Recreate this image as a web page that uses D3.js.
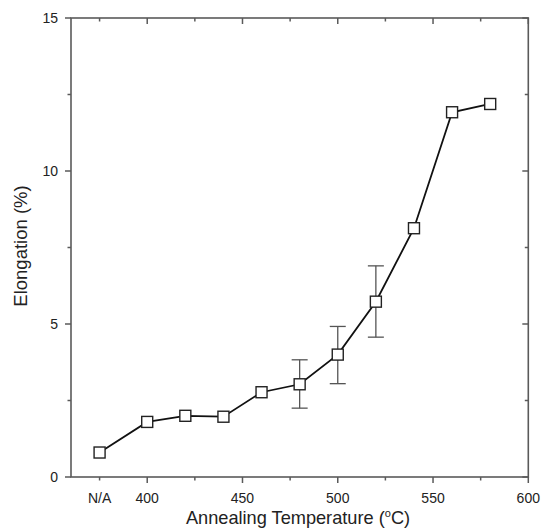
<!DOCTYPE html>
<html>
<head>
<meta charset="utf-8">
<script src="https://cdn.jsdelivr.net/npm/d3@7/dist/d3.min.js"></script>
<style>
  html, body { margin: 0; padding: 0; background: #fff; }
  svg { display: block; font-family: "Liberation Sans", Arial, sans-serif; }
</style>
</head>
<body>
<svg id="chart" width="541" height="529"></svg>
<script>
// Annealing temperature (°C); the untreated sample sits at the 375 slot, labelled N/A
const temperatures = [375, 400, 420, 440, 460, 480, 500, 520, 540, 560, 580];
const elongation   = [0.8, 1.8, 2.0, 1.97, 2.77, 3.03, 4.0, 5.73, 8.13, 11.92, 12.19];
const errLow       = [null, null, null, null, null, 2.25, 3.05, 4.57, null, null, null];
const errHigh      = [null, null, null, null, null, 3.83, 4.92, 6.9, null, null, null];

const xMajorTicks = [400, 450, 500, 550, 600];
const xMinorTicks = [425, 475, 525, 575];
const xSpecialTick = { value: 375, label: "N/A" };
const yMajorTicks = [0, 5, 10, 15];
const yMinorTicks = [2.5, 7.5, 12.5];

const svg = d3.select("#chart");
const plotL = 71, plotR = 528.3, plotT = 18, plotB = 477;

const x = d3.scaleLinear().domain([360, 600]).range([plotL, plotR]);
const y = d3.scaleLinear().domain([0, 15]).range([plotB, plotT]);

const axisColor = "#5a5a5a";
const g = svg.append("g");

// frame
g.append("rect")
  .attr("x", plotL).attr("y", plotT)
  .attr("width", plotR - plotL).attr("height", plotB - plotT)
  .attr("fill", "none").attr("stroke", axisColor).attr("stroke-width", 1.6);

function tickLines(vals, len, side) {
  vals.forEach(v => {
    if (side === "bottom") {
      g.append("line").attr("x1", x(v)).attr("x2", x(v)).attr("y1", plotB).attr("y2", plotB + len);
    } else if (side === "top") {
      g.append("line").attr("x1", x(v)).attr("x2", x(v)).attr("y1", plotT).attr("y2", plotT + len);
    } else if (side === "left") {
      g.append("line").attr("y1", y(v)).attr("y2", y(v)).attr("x1", plotL).attr("x2", plotL - len);
    } else {
      g.append("line").attr("y1", y(v)).attr("y2", y(v)).attr("x1", plotR).attr("x2", plotR - len);
    }
  });
}
tickLines(xMajorTicks, 6, "bottom");
tickLines(xMinorTicks.concat([xSpecialTick.value]), 3.5, "bottom");
tickLines(xMajorTicks, 6, "top");
tickLines(xMinorTicks.concat([xSpecialTick.value]), 3.5, "top");
tickLines(yMajorTicks, 6, "left");
tickLines(yMinorTicks, 3.5, "left");
tickLines(yMajorTicks, 6, "right");
tickLines(yMinorTicks, 3.5, "right");
g.selectAll("line").attr("stroke", axisColor).attr("stroke-width", 1.5);

// tick labels
const labelColor = "#222";
const tickSize = 14;
xMajorTicks.forEach(v => {
  svg.append("text").attr("x", x(v)).attr("y", 503)
    .attr("text-anchor", "middle").attr("font-size", tickSize).attr("fill", labelColor).text(v);
});
svg.append("text").attr("x", x(xSpecialTick.value)).attr("y", 503)
  .attr("text-anchor", "middle").attr("font-size", tickSize).attr("fill", labelColor).text(xSpecialTick.label);
yMajorTicks.forEach(v => {
  svg.append("text").attr("x", 58).attr("y", y(v)).attr("dy", "0.36em")
    .attr("text-anchor", "end").attr("font-size", tickSize).attr("fill", labelColor).text(v);
});

// axis titles
const xt = svg.append("text").attr("x", 298).attr("y", 524)
  .attr("text-anchor", "middle").attr("font-size", 18.2).attr("fill", labelColor);
xt.append("tspan").text("Annealing Temperature (");
xt.append("tspan").attr("font-size", 11).attr("dy", -7).text("o");
xt.append("tspan").attr("dy", 7).text("C)");

svg.append("text")
  .attr("transform", "translate(26.5,246) rotate(-90)")
  .attr("text-anchor", "middle").attr("font-size", 18.5).attr("fill", labelColor)
  .text("Elongation (%)");

// error bars
const capHalf = 8;
const eb = svg.append("g").attr("stroke", "#555").attr("stroke-width", 1.3);
temperatures.forEach((t, i) => {
  if (errLow[i] == null) return;
  eb.append("line").attr("x1", x(t)).attr("x2", x(t)).attr("y1", y(errLow[i])).attr("y2", y(errHigh[i]));
  eb.append("line").attr("x1", x(t) - capHalf).attr("x2", x(t) + capHalf).attr("y1", y(errLow[i])).attr("y2", y(errLow[i]));
  eb.append("line").attr("x1", x(t) - capHalf).attr("x2", x(t) + capHalf).attr("y1", y(errHigh[i])).attr("y2", y(errHigh[i]));
});

// connecting line
const pts = temperatures.map((t, i) => [t, elongation[i]]);
svg.append("path")
  .datum(pts)
  .attr("fill", "none").attr("stroke", "#111").attr("stroke-width", 1.8)
  .attr("d", d3.line().x(d => x(d[0])).y(d => y(d[1])));

// square markers
const s = 11;
svg.append("g").selectAll("rect").data(pts).join("rect")
  .attr("x", d => x(d[0]) - s / 2).attr("y", d => y(d[1]) - s / 2)
  .attr("width", s).attr("height", s)
  .attr("fill", "#fff").attr("stroke", "#222").attr("stroke-width", 1.4);
</script>
</body>
</html>
